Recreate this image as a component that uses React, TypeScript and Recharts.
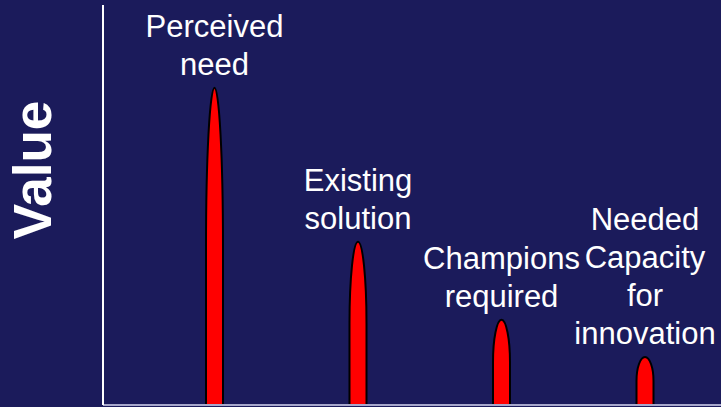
import React from "react";
import { BarChart, Bar, XAxis, YAxis, LabelList, Label } from "recharts";

const categories = [
  "Perceived\nneed",
  "Existing\nsolution",
  "Champions\nrequired",
  "Needed\nCapacity\nfor\ninnovation",
];
const values = [79.3, 40.8, 21.3, 12];

const data = categories.map((name, i) => ({ name, value: values[i] }));

const BG = "#1b1b5b";
const FONT = "'Liberation Sans', Arial, sans-serif";

function BulletBar(props: any) {
  const { x, y, width, height } = props;
  if (!height || height <= 0) return null;
  const c = height * 0.5;
  const r = width / 2;
  const d = `M${x},${y + height} L${x},${y + c} A${r},${c} 0 0 1 ${x + width},${y + c} L${x + width},${y + height} Z`;
  return <path d={d} fill="#ff0000" stroke="#000" strokeWidth={2} />;
}

function BarLabel(props: any) {
  const { x, y, width, value } = props;
  const lines = String(value).split("\n");
  const cx = x + width / 2;
  const lineH = 38;
  const lastBaseline = y - 13;
  return (
    <text
      x={cx}
      textAnchor="middle"
      fill="#fff"
      fontFamily={FONT}
      fontSize={31}
    >
      {lines.map((ln, i) => (
        <tspan key={i} x={cx} y={lastBaseline - (lines.length - 1 - i) * lineH}>
          {ln}
        </tspan>
      ))}
    </text>
  );
}

function AxisTitle(props: any) {
  const vb = props.viewBox || { x: 0, y: 5, width: 103, height: 400 };
  const tx = vb.x + 32;
  const ty = vb.y + vb.height / 2 - 35;
  return (
    <text
      transform={`translate(${tx},${ty}) rotate(-90)`}
      textAnchor="middle"
      dominantBaseline="central"
      fill="#fff"
      fontFamily={FONT}
      fontWeight="bold"
      fontSize={53}
    >
      Value
    </text>
  );
}

export default function App() {
  return (
    <div style={{ position: "fixed", left: 0, top: 0, width: 721, height: 407, background: BG }}>
      <BarChart
        width={721}
        height={407}
        data={data}
        margin={{ top: 5, right: 0, bottom: 0, left: 0 }}
      >
        <XAxis
          dataKey="name"
          tick={false}
          tickLine={false}
          height={2}
          padding={{ left: 40, right: 4 }}
          axisLine={{ stroke: "#a8a8cc", strokeWidth: 2 }}
        />
        <YAxis
          domain={[0, 100]}
          width={103}
          tick={false}
          tickLine={false}
          axisLine={{ stroke: "#fff", strokeWidth: 2 }}
        >
          <Label content={<AxisTitle />} />
        </YAxis>
        <Bar
          dataKey="value"
          barSize={17}
          shape={<BulletBar />}
          isAnimationActive={false}
        >
          <LabelList dataKey="name" content={<BarLabel />} />
        </Bar>
      </BarChart>
    </div>
  );
}
